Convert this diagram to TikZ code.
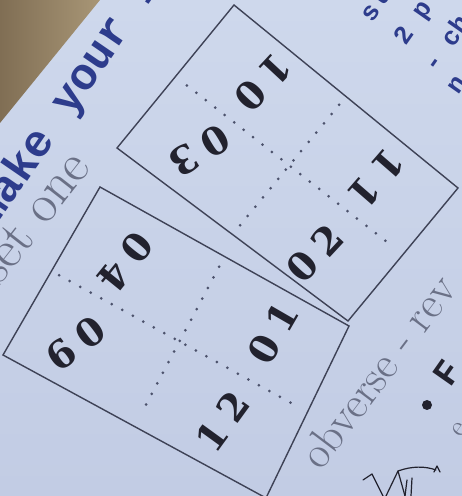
\documentclass[tikz,border=0pt]{standalone}
\usepackage{fontspec}
\newfontfamily\typefont{Liberation Mono}
\newfontfamily\digitfont{DejaVu Serif}
\usetikzlibrary{calc}
\definecolor{paperlight}{RGB}{206,216,236}
\definecolor{paperdark}{RGB}{194,204,228}
\definecolor{tablecol}{RGB}{168,150,118}
\definecolor{tabledark}{RGB}{128,110,84}
\definecolor{ink}{RGB}{62,66,86}
\definecolor{dotink}{RGB}{76,82,108}
\definecolor{blueink}{RGB}{45,60,140}
\definecolor{grayink}{RGB}{106,112,134}
\definecolor{digitink}{RGB}{34,34,46}
\tikzset{
  cardline/.style={draw=ink, line width=1.4pt, line join=miter},
  dotline/.style={draw=dotink, line width=3pt, line cap=round, dash pattern=on 0pt off 12pt},
  digit/.style={font={\digitfont\bfseries\fontsize{38}{38}\selectfont}, text=digitink, inner sep=0pt},
  bluebig/.style={font={\typefont\bfseries\fontsize{45}{45}\selectfont}, text=blueink, inner sep=0pt, anchor=base west},
  bluesmall/.style={font={\typefont\bfseries\fontsize{26}{26}\selectfont}, text=blueink, inner sep=0pt, anchor=base west},
  graytext/.style={text=grayink, inner sep=0pt, anchor=base west},
  sketch/.style={draw=digitink, line width=1.2pt, line cap=round, line join=round}
}
\begin{document}
\begin{tikzpicture}[x=1pt,y=1pt]
\useasboundingbox (0,0) rectangle (462,496);
\clip (0,0) rectangle (462,496);
% paper and table corner
\shade[top color=paperlight, bottom color=paperdark] (0,0) rectangle (462,496);
\shade[left color=tabledark, right color=tablecol] (0,496) -- (100,496) -- (0,373) -- cycle;

% card 1 (upper right)
\coordinate (A) at (234,491);
\coordinate (B) at (458,308);
\coordinate (C) at (348,175);
\coordinate (D) at (117,348);
% card 2 (lower left)
\coordinate (T) at (100,309);
\coordinate (R) at (349,170);
\coordinate (Q) at (266,-2);
\coordinate (L) at (3,141);

\draw[cardline] (A) -- (B) -- (C) -- (D) -- cycle;
\draw[cardline] (T) -- (R) -- (Q) -- (L) -- cycle;

% dotted midlines
\coordinate (AD) at ($(A)!0.5!(D)$);
\coordinate (BC) at ($(B)!0.5!(C)$);
\coordinate (AB) at ($(A)!0.5!(B)$);
\coordinate (DC) at ($(D)!0.5!(C)$);
\draw[dotline] ($(AD)!0.05!(BC)$) -- ($(AD)!0.93!(BC)$);
\draw[dotline] ($(AB)!0.06!(DC)$) -- ($(AB)!0.95!(DC)$);
\coordinate (TL) at ($(T)!0.5!(L)$);
\coordinate (RQ) at ($(R)!0.5!(Q)$);
\coordinate (TR) at ($(T)!0.5!(R)$);
\coordinate (LQ) at ($(L)!0.5!(Q)$);
\draw[dotline] ($(TL)!0.03!(RQ)$) -- ($(TL)!0.95!(RQ)$);
\draw[dotline] ($(TR)!0.06!(LQ)$) -- ($(TR)!0.93!(LQ)$);

% card numbers
\node[digit, rotate=227] (n10) at (263.5,413.5) {1\hspace{10pt}0};
\node[digit, rotate=211] (n03) at (200,345) {0\hspace{10pt}3};
\node[digit, rotate=229] (n11) at (376.5,317.5) {1\hspace{10pt}1};
\node[digit, rotate=47] (n02) at (314.5,242.5) {0\hspace{10pt}2};
\node[digit, rotate=231] (n04) at (125,234) {0\hspace{10pt}4};
\node[digit, rotate=217] (n09) at (76,152.5) {0\hspace{10pt}9};
\node[digit, rotate=54] (n12) at (222.5,74.5) {1\hspace{10pt}2};
\node[digit, rotate=60] (n01) at (273,163) {0\hspace{10pt}1};

% printed texts
\node[bluebig, rotate=55.5] (title) at (-5.5,267) {make your i};
\node[graytext, rotate=52, font=\fontsize{54}{54}\selectfont] (setone) at (-1,209) {set one};
\node[graytext, rotate=53, font=\fontsize{45}{45}\selectfont] (obverse) at (321,24) {obverse - rev};
\node[bluesmall, rotate=55] (l1) at (372,472.7) {sl};
\node[bluesmall, rotate=55] (l2) at (405.5,449.7) {2 p};
\node[bluesmall, rotate=55] (l3) at (435,422) {- ch};
\node[bluesmall, rotate=55] (l4) at (458,400.7) {n};

% bullet item
\node[circle, fill=digitink, minimum size=10pt, inner sep=0pt] (bullet) at (427,91) {};
\node[font={\typefont\bfseries\fontsize{36}{36}\selectfont}, text=digitink, rotate=55, inner sep=0pt] (F) at (447,123) {F};
\node[font={\fontsize{30}{30}\selectfont}, text=grayink, rotate=55, inner sep=0pt] (efrag) at (460,66) {e};

% pencil sketch at the bottom
\draw[sketch] (363,16) -- (372,22) -- (383,0);
\draw[sketch] (386,0) -- (398,25) -- (405,0);
\draw[sketch] (398,25) .. controls (412,30) and (425,30) .. (436,26);
\draw[sketch] (407,16) -- (405,0);
\draw[sketch] (412,18) -- (411,0);
\draw[sketch] (434,24) -- (437,30) -- (440,24);
\end{tikzpicture}
\end{document}
